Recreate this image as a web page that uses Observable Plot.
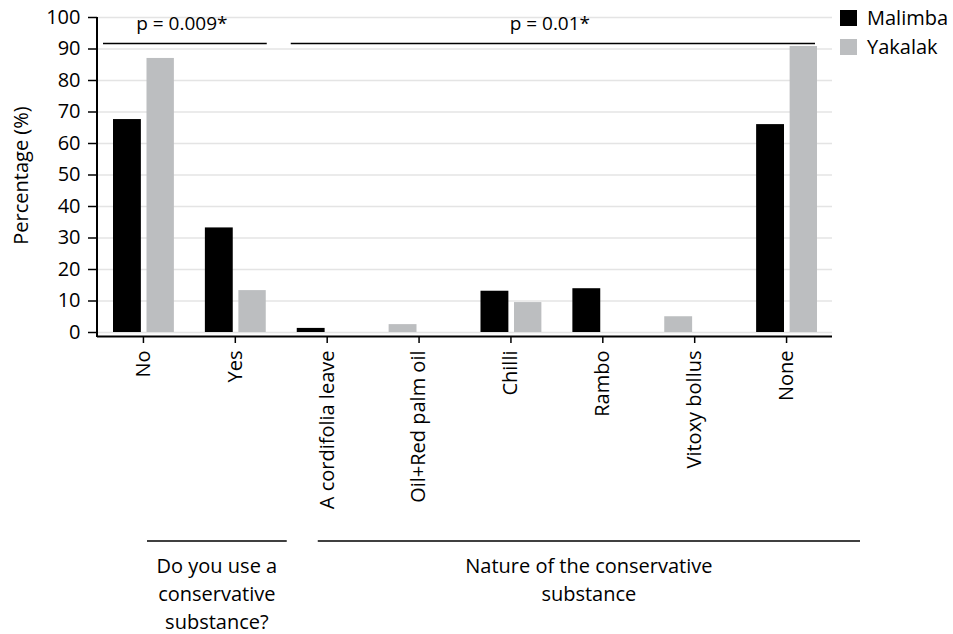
<!DOCTYPE html>
<html>
<head>
<meta charset="utf-8">
<script src="https://cdn.jsdelivr.net/npm/d3@7"></script>
<script src="https://cdn.jsdelivr.net/npm/@observablehq/plot@0.6"></script>
<style>
  html, body { margin: 0; padding: 0; background: #fff; }
  svg text { font-family: "Open Sans", sans-serif; }
</style>
</head>
<body>
<div id="chart"></div>
<script>
// ---- data ----
const categories = ["No", "Yes", "A cordifolia leave", "Oil+Red palm oil", "Chilli", "Rambo", "Vitoxy bollus", "None"];
const seriesNames = ["Malimba", "Yakalak"];
const malimba = [67.6, 33.2, 1.3, 0, 13.1, 13.9, 0, 66.0];
const yakalak = [87.0, 13.3, 0, 2.5, 9.5, 0, 5.0, 90.8];
const seriesColors = ["#000000", "#bcbec0"];
const yTicks = [0, 10, 20, 30, 40, 50, 60, 70, 80, 90, 100];
const yLabel = "Percentage (%)";
const pTests = [
  { label: "p = 0.009*", from: "No", to: "Yes" },
  { label: "p = 0.01*", from: "A cordifolia leave", to: "None" }
];
const groupLabels = [
  { lines: ["Do you use a", "conservative", "substance?"], from: "No", to: "Yes" },
  { lines: ["Nature of the conservative", "substance"], from: "A cordifolia leave", to: "None" }
];

// ---- table: non-zero bars take successive slots within each category ----
const rows = [];
categories.forEach((c, i) => {
  let slot = 0;
  [malimba[i], yakalak[i]].forEach((v, j) => {
    if (v > 0) rows.push({ category: c, series: seriesNames[j], value: v, slot: slot++ });
  });
});

const W = 953, H = 634;
const mL = 97, mR = 121, mT = 17, mB = 298;
const FS = 19, FL = 20;

const plot = Plot.plot({
  width: W, height: H,
  marginLeft: mL, marginRight: mR, marginTop: mT, marginBottom: mB,
  style: { fontFamily: "'Open Sans', sans-serif", fontSize: FS + "px", color: "#000", background: "#fff", overflow: "visible" },
  x: { domain: categories, padding: 0, round: false, label: null },
  y: { domain: [0, 100], insetBottom: 4, label: null },
  color: { domain: seriesNames, range: seriesColors },
  marks: [
    Plot.gridY(yTicks, { stroke: "#e4e4e4", strokeOpacity: 1, strokeWidth: 1.5 }),
    Plot.barY(rows.filter(d => d.slot === 0), { x: "category", y: "value", fill: "series", insetLeft: 16, insetRight: 48 }),
    Plot.barY(rows.filter(d => d.slot === 1), { x: "category", y: "value", fill: "series", insetLeft: 49.5, insetRight: 15 }),
    Plot.ruleY([0], { dy: 4, stroke: "#000", strokeWidth: 2 }),
    Plot.axisY({ ticks: yTicks, tickSize: 9, tickPadding: 8, fontSize: FL, strokeWidth: 1.5, label: null }),
    Plot.axisX({ tickSize: 7, tickPadding: 7, tickRotate: -90, fontSize: FL, strokeWidth: 1.5, label: null })
  ]
});

document.getElementById("chart").appendChild(plot);

// ---- annotations derived from the plot's scales ----
const svg = d3.select(plot);
const xs = plot.scale("x"), ys = plot.scale("y");
const bw = xs.bandwidth;
const bottomY = H - mB;

// left axis line
svg.append("line")
  .attr("x1", mL).attr("x2", mL)
  .attr("y1", ys.apply(100)).attr("y2", bottomY + 1)
  .attr("stroke", "#000").attr("stroke-width", 2);

// y axis title
svg.append("text")
  .attr("transform", `translate(28,${(ys.apply(0) + ys.apply(100)) / 2 + 1}) rotate(-90)`)
  .attr("text-anchor", "middle").attr("font-size", FL).attr("fill", "#000").text(yLabel);

// significance brackets
const pOffsets = [[6, -14], [10, -17]];
const pY = ys.apply(91.6);
pTests.forEach((p, k) => {
  const x1 = xs.apply(p.from) + pOffsets[k][0];
  const x2 = xs.apply(p.to) + bw + pOffsets[k][1];
  svg.append("line").attr("x1", x1).attr("x2", x2).attr("y1", pY).attr("y2", pY)
    .attr("stroke", "#000").attr("stroke-width", 1.5);
  svg.append("text").attr("x", (x1 + x2) / 2 - 3).attr("y", pY - 13)
    .attr("text-anchor", "middle").attr("font-size", FS).attr("fill", "#000").text(p.label);
});

// group labels below axis
const gOffsets = [[50, 6], [37, 28]];
const gLineY = 541;
groupLabels.forEach((g, k) => {
  const x1 = xs.apply(g.from) + gOffsets[k][0];
  const x2 = xs.apply(g.to) + bw + gOffsets[k][1];
  svg.append("line").attr("x1", x1).attr("x2", x2).attr("y1", gLineY).attr("y2", gLineY)
    .attr("stroke", "#000").attr("stroke-width", 1.5);
  g.lines.forEach((t, i) => {
    svg.append("text").attr("x", (x1 + x2) / 2).attr("y", gLineY + 32 + i * 28)
      .attr("text-anchor", "middle").attr("font-size", FL).attr("fill", "#000").text(t);
  });
});

// legend
const lg = svg.append("g").attr("text-anchor", "start");
seriesNames.forEach((s, i) => {
  const y0 = 10 + i * 29;
  lg.append("rect").attr("x", 840).attr("y", y0).attr("width", 17).attr("height", 16)
    .attr("fill", seriesColors[i]);
  lg.append("text").attr("x", 867).attr("y", y0 + 15).attr("text-anchor", "start")
    .attr("font-size", FL).attr("fill", "#000").text(s);
});
</script>
</body>
</html>
